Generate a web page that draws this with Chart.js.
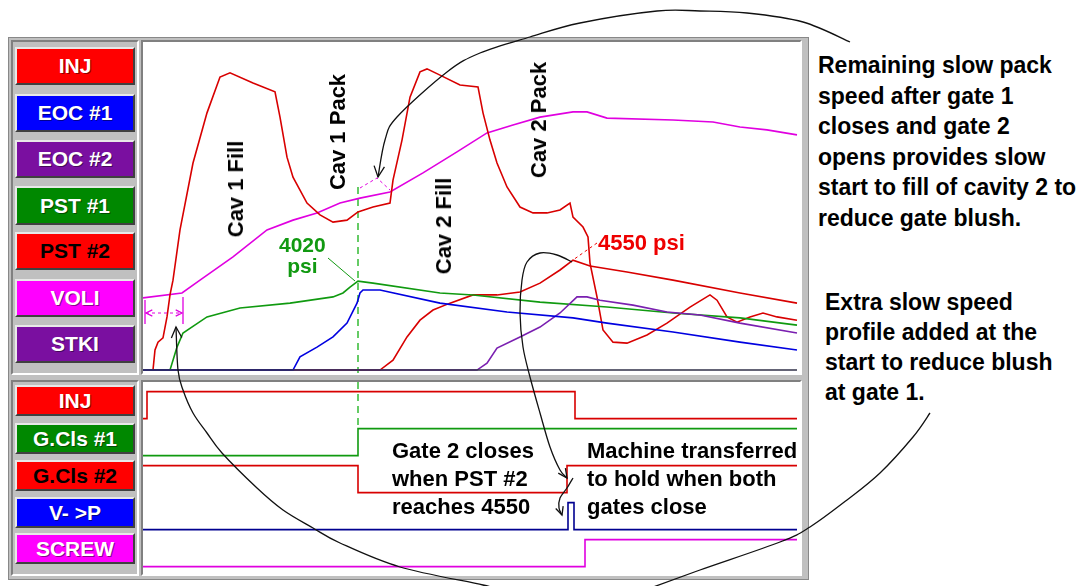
<!DOCTYPE html>
<html>
<head>
<meta charset="utf-8">
<script src="https://cdn.jsdelivr.net/npm/chart.js@4/dist/chart.umd.min.js"></script>
<style>
  body { margin: 0; width: 1087px; height: 586px; background: #fff; position: relative; overflow: hidden;
         font-family: "Liberation Sans", Arial, sans-serif; font-weight: bold; }
  .panel { position: absolute; background: #c0c0c0; }
  .sunk { position: absolute; box-sizing: border-box; border: 2px solid; border-color: #808080 #fff #fff #808080; }
  .btn { position: absolute; left: 15px; width: 120px; box-sizing: border-box; border: 2px solid;
         border-color: #e8e8e8 #404040 #404040 #e8e8e8; color: #fff; font-size: 21px; text-align: center;
         text-shadow: 1px 1px 0 rgba(0,0,0,0.45); display: flex; align-items: center; justify-content: center; }
  .note { position: absolute; color: #000; white-space: nowrap; }
  .rot { position: absolute; white-space: nowrap; font-size: 22px; color: #000; transform: translate(-50%, -50%) rotate(-90deg); }
  canvas { position: absolute; }
</style>
</head>
<body>

<div class="panel" style="left:8px;top:37px;width:801px;height:543px;border:1px solid #888;box-sizing:border-box"></div>
<div class="sunk" style="left:11px;top:40px;width:128px;height:335px"></div>
<div class="sunk" style="left:11px;top:380px;width:128px;height:196px"></div>
<div class="sunk" style="left:141px;top:40px;width:661px;height:335px;background:#fff"></div>
<div class="sunk" style="left:141px;top:380px;width:661px;height:196px;background:#fff"></div>

<div class="btn" style="top:47px;height:38px;background:#ff0000">INJ</div>
<div class="btn" style="top:94px;height:38px;background:#0000ff">EOC #1</div>
<div class="btn" style="top:140px;height:38px;background:#7a0fa0">EOC #2</div>
<div class="btn" style="top:186px;height:39px;background:#008800">PST #1</div>
<div class="btn" style="top:232px;height:38px;background:#ff0000;color:#000;text-shadow:none">PST #2</div>
<div class="btn" style="top:279px;height:38px;background:#ff00ff">VOLI</div>
<div class="btn" style="top:325px;height:38px;background:#7a0fa0">STKI</div>

<div class="btn" style="top:385px;height:31px;background:#ff0000">INJ</div>
<div class="btn" style="top:423px;height:31px;background:#008800">G.Cls #1</div>
<div class="btn" style="top:460px;height:31px;background:#ff0000;color:#000;text-shadow:none">G.Cls #2</div>
<div class="btn" style="top:497px;height:31px;background:#0000ff">V- &gt;P</div>
<div class="btn" style="top:533px;height:31px;background:#ff00ff">SCREW</div>

<canvas id="upper" width="657" height="331" style="left:143px;top:42px"></canvas>
<canvas id="lower" width="657" height="192" style="left:143px;top:382px"></canvas>

<div class="rot" style="left:236px;top:189px">Cav 1 Fill</div>
<div class="rot" style="left:338px;top:132px">Cav 1 Pack</div>
<div class="rot" style="left:444px;top:226px">Cav 2 Fill</div>
<div class="rot" style="left:539px;top:120px">Cav 2 Pack</div>
<div class="note" style="left:279px;top:234px;font-size:21px;line-height:21px;color:#119911;text-align:center">4020<br>psi</div>
<div class="note" style="left:598px;top:230px;font-size:22px;color:#ee0000">4550 psi</div>

<div class="note" style="left:392px;top:437px;font-size:22px;line-height:28px">Gate 2 closes<br>when PST #2<br>reaches 4550</div>
<div class="note" style="left:587px;top:437px;font-size:22px;line-height:28px">Machine transferred<br>to hold when both<br>gates close</div>

<div class="note" style="left:818px;top:50px;font-size:23px;line-height:30.5px">Remaining slow pack<br>speed after gate 1<br>closes and gate 2<br>opens provides slow<br>start to fill of cavity 2 to<br>reduce gate blush.</div>
<div class="note" style="left:825px;top:287px;font-size:23px;line-height:30px">Extra slow speed<br>profile added at the<br>start to reduce blush<br>at gate 1.</div>

<canvas id="overlay" width="1087" height="586" style="left:0;top:0;pointer-events:none"></canvas>

<script>
// time in ms, analog traces in % of full scale
var injTime = [0,50,60,75,100,120,135,150,185,250,320,385,435,550,660,685,720,750,820,885,950,1020,1075,1150,1235,1250,1295,1335,1385,1420,1485,1585,1675,1700,1735,1770,1820,1885,1950,2020,2085,2135,2150,2200,2225,2235,2270,2300,2350,2420,2520,2620,2735,2835,2870,2920,2970,3035,3100,3170,3270];
var injVal = [0,0,6.1,8.5,9.8,16.2,22.9,27.4,42.7,63.1,78.4,89.3,90.6,87.5,84.8,77.1,64.9,58.8,50.9,47.3,45.1,45.7,48.2,49.7,50.9,57.9,70.1,83.2,90.9,91.8,89.9,86.9,86.3,78.4,70.1,63.1,55.8,49.7,47.9,47.9,48.8,50.9,46.6,43.6,40.6,32.6,22.3,12.2,8.5,8.2,10.7,14.3,19.2,22.9,21.3,16.2,14.6,16.2,17.4,16.2,15.2];

var pst2Time = [0,1185,1250,1320,1385,1450,1535,1650,1770,1885,1985,2085,2150,2235,2420,2650,2985,3270];
var pst2Val = [0,0,3.0,10.1,15.2,18.3,20.4,22.9,22.9,23.8,26.5,30.5,33.5,31.7,29.9,27.4,23.5,20.4];

var voliTime = [0,195,285,450,620,750,870,985,1085,1235,1400,1570,1720,1850,1985,2150,2220,2320,2650,2850,2985,3120,3270];
var voliVal = [22.0,23.5,27.4,34.5,42.7,45.7,47.9,50.9,52.4,54.3,60.1,66.5,72.3,74.7,77.1,78.7,78.7,76.8,76.2,75.6,74.1,73.2,71.7];

var pst1Time = [0,135,150,170,200,320,485,735,950,1000,1035,1075,1150,1485,1650,1985,2320,2650,2985,3270];
var pst1Val = [0,0,3.0,7.0,11.3,16.2,18.9,20.4,22.3,23.5,25.3,27.1,26.5,23.5,22.9,20.7,19.2,17.4,15.9,13.7];

var eoc1Time = [0,750,785,870,950,1020,1070,1085,1100,1185,1485,1820,2150,2320,2650,2985,3270];
var eoc1Val = [0,0,4.0,7.0,10.1,14.3,20.4,23.5,24.4,24.4,20.4,17.7,15.9,14.3,11.6,8.5,6.1];

var eoc2Time = [0,1670,1720,1770,1885,1985,2085,2170,2220,2285,2450,2620,2785,2985,3270];
var eoc2Val = [0,0,2.1,6.7,10.1,13.1,17.4,22.3,22.3,21.3,19.8,17.7,16.8,14.3,11.3];

var stkiTime = [0,3270];
var stkiVal = [0,0];

// digital channels: switch times (ms) and on/off state from that time
var endTime = 3270;
var gate1CloseTime = 1075;
var digInjTime = [0,20,2160];      var digInjState = [0,1,0];
var gcls1Time = [0,1075];          var gcls1State = [0,1];
var gcls2Time = [0,1075,2120];     var gcls2State = [1,0,1];
var vpTime = [0,2125,2155];        var vpState = [0,1,0];
var screwTime = [0,2210];          var screwState = [0,1];

function pairs(t, v) {
    return t.map(function(x, i) { return {x: x, y: v[i]}; });
}

function line(label, t, v, color) {
    return { label: label, data: pairs(t, v), borderColor: color, borderWidth: 1.6, pointRadius: 0, fill: false, tension: 0 };
}

// lane 0 is the bottom row (SCREW), lane 4 the top row (INJ)
function digital(label, t, s, lane, color) {
    var pts = t.map(function(x, i) { return {x: x, y: lane + (s[i] ? 0.93 : 0.2)}; });
    pts.push({x: endTime, y: pts[pts.length - 1].y});
    return { label: label, data: pts, borderColor: color, borderWidth: 1.6, pointRadius: 0, fill: false, stepped: true };
}

var baseOpts = {
    animation: false,
    responsive: false,
    layout: { padding: 0 },
    plugins: { legend: { display: false }, tooltip: { enabled: false }, title: { display: false } },
    elements: { point: { radius: 0 } }
};

new Chart(document.getElementById('upper'), {
    type: 'line',
    data: {
        datasets: [
            line('STKI', stkiTime, stkiVal, '#303048'),
            line('EOC #1', eoc1Time, eoc1Val, '#0000e0'),
            line('EOC #2', eoc2Time, eoc2Val, '#7a1fb0'),
            line('PST #1', pst1Time, pst1Val, '#109a10'),
            line('PST #2', pst2Time, pst2Val, '#d80000'),
            line('INJ', injTime, injVal, '#d80000'),
            line('VOLI', voliTime, voliVal, '#e000e0'),
            { label: 'gate1', data: [{x: gate1CloseTime, y: 55.8}, {x: gate1CloseTime, y: -0.9}],
              borderColor: '#33bb33', borderWidth: 1.5, borderDash: [7, 5], pointRadius: 0 }
        ]
    },
    options: Object.assign({}, baseOpts, {
        scales: {
            x: { type: 'linear', min: 0, max: 3285, display: false },
            y: { min: -0.9, max: 100, display: false }
        }
    })
});

new Chart(document.getElementById('lower'), {
    type: 'line',
    data: {
        datasets: [
            digital('INJ', digInjTime, digInjState, 4, '#d80000'),
            digital('G.Cls #1', gcls1Time, gcls1State, 3, '#109a10'),
            digital('G.Cls #2', gcls2Time, gcls2State, 2, '#d80000'),
            digital('V->P', vpTime, vpState, 1, '#000090'),
            digital('SCREW', screwTime, screwState, 0, '#e000e0'),
            { label: 'gate1', data: [{x: gate1CloseTime, y: 5.19}, {x: gate1CloseTime, y: 3.95}],
              borderColor: '#33bb33', borderWidth: 1.5, borderDash: [7, 5], pointRadius: 0 }
        ]
    },
    options: Object.assign({}, baseOpts, {
        scales: {
            x: { type: 'linear', min: 0, max: 3285, display: false },
            y: { min: 0, max: 5.19, display: false }
        }
    })
});

// hand drawn callout arrows on top of everything
var ov = document.getElementById('overlay').getContext('2d');

function curve(ctx, pts) {
    ctx.beginPath();
    ctx.moveTo(pts[0][0], pts[0][1]);
    for (var i = 0; i < pts.length - 1; i++) {
        var p0 = pts[i - 1] || pts[i], p1 = pts[i], p2 = pts[i + 1], p3 = pts[i + 2] || p2;
        ctx.bezierCurveTo(p1[0] + (p2[0] - p0[0]) / 6, p1[1] + (p2[1] - p0[1]) / 6,
                          p2[0] - (p3[0] - p1[0]) / 6, p2[1] - (p3[1] - p1[1]) / 6, p2[0], p2[1]);
    }
    ctx.stroke();
}

function arrowHead(ctx, from, tip, size) {
    var a = Math.atan2(tip[1] - from[1], tip[0] - from[0]);
    ctx.beginPath();
    ctx.moveTo(tip[0] - size * Math.cos(a - 0.45), tip[1] - size * Math.sin(a - 0.45));
    ctx.lineTo(tip[0], tip[1]);
    ctx.lineTo(tip[0] - size * Math.cos(a + 0.45), tip[1] - size * Math.sin(a + 0.45));
    ctx.stroke();
}

ov.strokeStyle = '#111';
ov.lineWidth = 1.3;

// top arc to the slow pack bump
var topArc = [[850,42],[803,22],[747,13],[700,11],[657,11],[580,23],[530,37],[480,53],[447,72],[397,117],[385,140],[378,177]];
curve(ov, topArc);
arrowHead(ov, [380,160], [378,177], 12);

// big ellipse, left part pointing at the extra slow profile
var leftArc = [[176,327],[178,370],[183,390],[193,413],[207,433],[222,453],[257,488],[283,510],[313,528],[340,543],[400,567],[483,585],[500,590]];
curve(ov, leftArc);
arrowHead(ov, [177,345], [176,327], 12);
var rightArc = [[645,590],[700,570],[780,542],[810,527],[847,500],[880,473],[913,437],[930,413]];
curve(ov, rightArc);

// 4550 psi to gate 2 close and V->P
var pstArc = [[572,262],[557,255],[540,253],[527,262],[522,280],[520,313],[523,347],[530,377],[540,413],[550,447],[560,470],[567,478]];
curve(ov, pstArc);
arrowHead(ov, [560,468], [567,478], 10);
curve(ov, [[573,478],[567,488],[560,498],[559,508],[562,515]]);
arrowHead(ov, [559,506], [562,515], 9);

// leader lines
ov.lineWidth = 1;
ov.strokeStyle = '#119911';
ov.beginPath(); ov.moveTo(328,258); ov.lineTo(355,281); ov.stroke();
ov.strokeStyle = '#ee0000';
ov.setLineDash([3, 3]);
ov.beginPath(); ov.moveTo(597,243); ov.lineTo(573,260); ov.stroke();

// magenta slow-start span and slow pack bump
ov.strokeStyle = '#e000e0';
ov.beginPath(); ov.moveTo(360,188); ov.lineTo(377,178); ov.lineTo(390,190); ov.stroke();
ov.beginPath(); ov.moveTo(146,313); ov.lineTo(182,313); ov.stroke();
ov.setLineDash([]);
ov.lineWidth = 1.3;
ov.beginPath(); ov.moveTo(145,300); ov.lineTo(145,324); ov.moveTo(183,297); ov.lineTo(183,324); ov.stroke();
arrowHead(ov, [160,313], [146,313], 7);
arrowHead(ov, [168,313], [182,313], 7);
</script>
</body>
</html>
